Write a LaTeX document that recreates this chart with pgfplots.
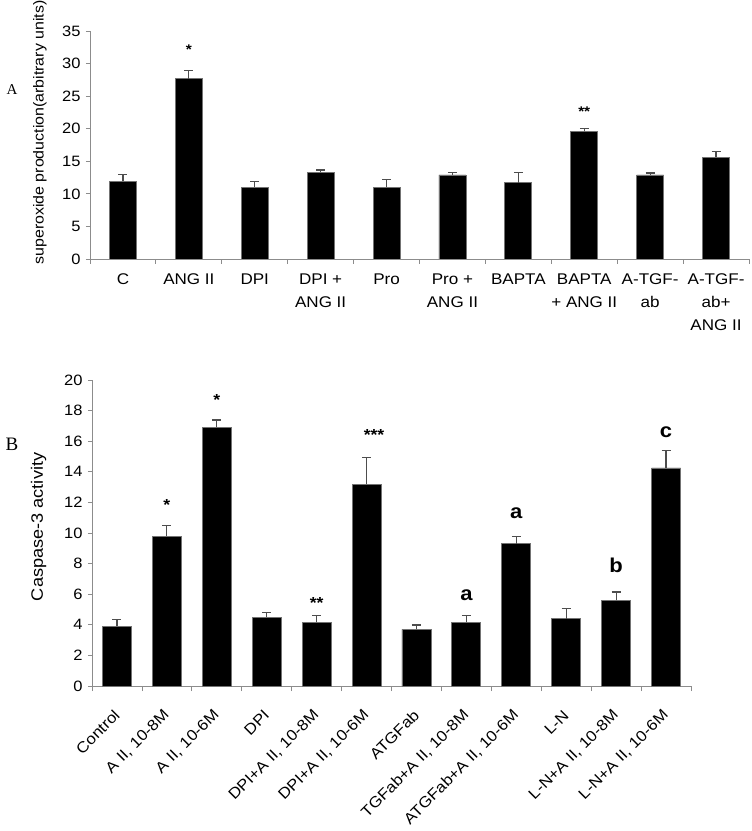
\documentclass[border=0pt]{standalone}
\usepackage{pgfplots}
\pgfplotsset{compat=1.18}
\usepackage{fontspec}
\setmainfont{Liberation Sans}[FakeStretch=1.1]
\newfontfamily\serifA{Liberation Serif}
\definecolor{axgray}{HTML}{8C8C8C}
\definecolor{errgray}{HTML}{4D4D4D}
\pgfplotsset{
  mystyle/.style={
    scale only axis,
    axis x line*=bottom, axis y line*=left,
    axis line style={axgray, line width=0.8pt},
    ymin=0,
    tick align=outside,
    tick style={axgray, line width=0.8pt},
    major tick length=4pt, minor tick length=5pt,
    major x tick style={draw=none},
    ybar,
    /pgf/number format/assume math mode=true,
    yticklabel style={font=\fontsize{15}{15}\selectfont, xshift=-2pt},
    error bars/y dir=plus, error bars/y explicit,
    error bars/error bar style={errgray, line width=1.2pt},
    error bars/error mark options={errgray, line width=1.5pt, mark size=4.5pt, rotate=90},
  }
}
\begin{document}
\begin{tikzpicture}
\path[use as bounding box] (0pt,0pt) rectangle (752pt,831pt);
\node[font=\serifA\fontsize{15}{15}\selectfont] at (12pt,741pt) {A};
\node[font=\serifA\fontsize{19}{19}\selectfont] at (12pt,387pt) {B};
% Panel A
\begin{axis}[mystyle,
  at={(90pt,572pt)}, anchor=south west,
  width=659pt, height=228pt,
  xmin=-0.5, xmax=9.5, ymax=35,
  ytick={0,5,...,35},
  xtick={0,...,9},
  minor xtick={-0.5,0.5,...,9.5},
  bar width=27pt,
  xticklabels={C, ANG II, DPI, {DPI +\\ANG II}, Pro, {Pro +\\ANG II}, BAPTA, {BAPTA\\+ ANG II}, {A-TGF-\\ab}, {A-TGF-\\ab+\\ANG II}},
  xticklabel style={align=center, font=\fontsize{15.5}{23}\selectfont, yshift=-7pt},
  ylabel={superoxide production(arbitrary units)},
  ylabel style={font=\fontsize{14.5}{15}\selectfont, at={(axis description cs:-0.076,0.555)}, anchor=center},
]
\addplot[fill=black, draw=black!55, line width=0.8pt] coordinates {
 (0,11.9) +- (0,1.1)
 (1,27.7) +- (0,1.2)
 (2,11.0) +- (0,0.9)
 (3,13.3) +- (0,0.4)
 (4,11.0) +- (0,1.2)
 (5,12.9) +- (0,0.4)
 (6,11.7) +- (0,1.6)
 (7,19.6) +- (0,0.4)
 (8,12.9) +- (0,0.3)
 (9,15.6) +- (0,0.9)
};
\node[font=\bfseries\fontsize{14}{14}\selectfont] at (axis cs:1,32.1) {*};
\node[font=\bfseries\fontsize{14}{14}\selectfont] at (axis cs:7,22.6) {**};
\end{axis}
% Panel B
\begin{axis}[mystyle,
  at={(92pt,145pt)}, anchor=south west,
  width=599pt, height=306pt,
  xmin=-0.5, xmax=11.5, ymax=20,
  ytick={0,2,...,20},
  xtick={0,...,11},
  minor xtick={-0.5,0.5,...,11.5},
  bar width=29pt,
  xticklabels={Control, {A II, 10-8M}, {A II, 10-6M}, DPI, {DPI+A II, 10-8M}, {DPI+A II, 10-6M}, ATGFab, {TGFab+A II, 10-8M}, {ATGFab+A II, 10-6M}, L-N, {L-N+A II, 10-8M}, {L-N+A II, 10-6M}},
  xticklabel style={rotate=45, anchor=east, font=\fontsize{15.3}{15.3}\selectfont, yshift=-16pt, xshift=-12.7pt},
  ylabel={Caspase-3 activity},
  ylabel style={font=\fontsize{16.5}{17}\selectfont, at={(axis description cs:-0.089,0.52)}, anchor=center},
]
\addplot[fill=black, draw=black!55, line width=0.8pt] coordinates {
 (0,3.9) +- (0,0.46)
 (1,9.8) +- (0,0.7)
 (2,16.9) +- (0,0.5)
 (3,4.5) +- (0,0.3)
 (4,4.16) +- (0,0.44)
 (5,13.2) +- (0,1.75)
 (6,3.7) +- (0,0.3)
 (7,4.18) +- (0,0.42)
 (8,9.3) +- (0,0.46)
 (9,4.4) +- (0,0.68)
 (10,5.6) +- (0,0.54)
 (11,14.25) +- (0,1.15)
};
\node[font=\bfseries\fontsize{16}{16}\selectfont] at (axis cs:1,11.8) {*};
\node[font=\bfseries\fontsize{16}{16}\selectfont] at (axis cs:2,18.7) {*};
\node[font=\bfseries\fontsize{16}{16}\selectfont] at (axis cs:4,5.4) {**};
\node[font=\bfseries\fontsize{16}{16}\selectfont] at (axis cs:5.15,16.4) {***};
\node[font=\bfseries\fontsize{20}{20}\selectfont] at (axis cs:7,5.95) {a};
\node[font=\bfseries\fontsize{20}{20}\selectfont] at (axis cs:8,11.3) {a};
\node[font=\bfseries\fontsize{20}{20}\selectfont] at (axis cs:10,7.9) {b};
\node[font=\bfseries\fontsize{20}{20}\selectfont] at (axis cs:11,16.6) {c};
\end{axis}
\end{tikzpicture}
\end{document}
